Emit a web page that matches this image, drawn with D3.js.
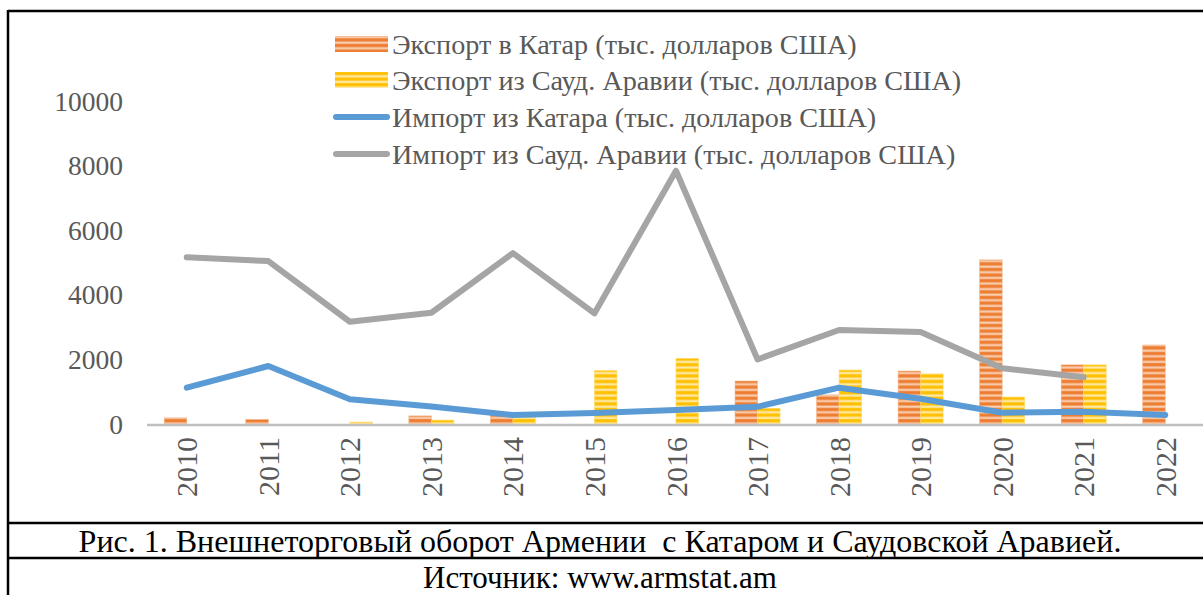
<!DOCTYPE html>
<html>
<head>
<meta charset="utf-8">
<script src="https://cdn.jsdelivr.net/npm/d3@7"></script>
<style>
  body { margin: 0; background: #fff; }
  svg { display: block; font-family: "Liberation Serif", "Times New Roman", serif; }
</style>
</head>
<body>
<svg id="graph"></svg>
<script>
// data
var years = ["2010","2011","2012","2013","2014","2015","2016","2017","2018","2019","2020","2021","2022"];
var exportQatar = [190, 140, 0, 250, 330, 0, 0, 1330, 900, 1640, 5080, 1830, 2445];
var exportSaudi = [0, 0, 60, 120, 230, 1650, 2030, 485, 1670, 1550, 835, 1830, 0];
var importQatar = [1125, 1795, 765, 540, 280, 340, 430, 535, 1125, 780, 350, 380, 280];
var importSaudi = [5160, 5045, 3165, 3445, 5290, 3425, 7840, 2000, 2910, 2850, 1725, 1445, null];
var yTicks = [0, 2000, 4000, 6000, 8000, 10000];
var legendLabels = [
  "Экспорт в Катар (тыс. долларов США)",
  "Экспорт из Сауд. Аравии (тыс. долларов США)",
  "Импорт из Катара (тыс. долларов США)",
  "Импорт из Сауд. Аравии (тыс. долларов США)"
];
var caption = "Рис. 1. Внешнеторговый оборот Армении  с Катаром и Саудовской Аравией.";
var source = "Источник: www.armstat.am";

var screen = {width: 1203, height: 595};
var svg = d3.select("#graph")
  .attr("width", screen.width)
  .attr("height", screen.height);

// striped fills for the bars
var defs = svg.append("defs");
var makeStripes = function(id, dark, light)
{
  var p = defs.append("pattern")
    .attr("id", id)
    .attr("patternUnits", "userSpaceOnUse")
    .attr("width", 10).attr("height", 5.6);
  p.append("rect").attr("width", 10).attr("height", 5.6).attr("fill", dark);
  p.append("rect").attr("y", 2.2).attr("width", 10).attr("height", 2.6).attr("fill", light);
  p.append("rect").attr("y", 2.9).attr("width", 10).attr("height", 1.2).attr("fill", "#fff").attr("opacity", 0.35);
};
makeStripes("stripeOrange", "#ED7D31", "#F6B88E");
makeStripes("stripeYellow", "#FFC000", "#FFDF80");

var xScale = d3.scaleBand().domain(years).range([146, 1206]).padding(0);
var yScale = d3.scaleLinear().domain([0, 10000]).range([424, 101]);
var inner = d3.scaleBand().domain(["q", "s"]).range([-22.5, 22.5]);
var cx = function(d, i) { return xScale(years[i]) + xScale.bandwidth() / 2; };

// y tick labels
svg.append("g").selectAll("text")
  .data(yTicks)
  .enter()
  .append("text")
  .attr("x", 123)
  .attr("y", function(d) { return yScale(d); })
  .attr("text-anchor", "end")
  .attr("dominant-baseline", "central")
  .attr("font-size", 27.5)
  .attr("fill", "#595959")
  .text(function(d) { return d; });

// bars
var barData = [
  {key: "q", values: exportQatar, fill: "url(#stripeOrange)", edge: "#F4B183"},
  {key: "s", values: exportSaudi, fill: "url(#stripeYellow)", edge: "#FFD966"}
];
barData.forEach(function(s)
{
  svg.append("g").selectAll("rect")
    .data(s.values)
    .enter()
    .append("rect")
    .attr("x", function(d, i) { return cx(d, i) + inner(s.key); })
    .attr("width", inner.bandwidth())
    .attr("y", function(d) { return yScale(d); })
    .attr("height", function(d) { return yScale(0) - yScale(d); })
    .attr("fill", s.fill)
    .attr("stroke", s.edge)
    .attr("stroke-width", 0.6);
});

// x axis line
svg.append("line")
  .attr("x1", 147).attr("x2", screen.width)
  .attr("y1", yScale(0) + 1).attr("y2", yScale(0) + 1)
  .attr("stroke", "#BFBFBF").attr("stroke-width", 2.5);

// year labels
svg.append("g").selectAll("text")
  .data(years)
  .enter()
  .append("text")
  .attr("transform", function(d) { return "translate(" + (xScale(d) + xScale.bandwidth() / 2) + ",437) rotate(-90)"; })
  .attr("text-anchor", "end")
  .attr("dominant-baseline", "central")
  .attr("font-size", 30)
  .attr("fill", "#595959")
  .text(function(d) { return d; });

// lines
var line = d3.line()
  .defined(function(d) { return d != null; })
  .x(function(d, i) { return cx(d, i); })
  .y(function(d) { return yScale(d); });

svg.append("path")
  .datum(importSaudi)
  .attr("d", line)
  .attr("fill", "none")
  .attr("stroke", "#A5A5A5")
  .attr("stroke-width", 6)
  .attr("stroke-linecap", "round")
  .attr("stroke-linejoin", "round");

svg.append("path")
  .datum(importQatar)
  .attr("d", line)
  .attr("fill", "none")
  .attr("stroke", "#5B9BD5")
  .attr("stroke-width", 6)
  .attr("stroke-linecap", "round")
  .attr("stroke-linejoin", "round");

// legend
var legendY = [44, 80, 117, 154];
var legend = svg.append("g");
legend.append("rect").attr("x", 335).attr("y", legendY[0] - 8).attr("width", 53).attr("height", 16).attr("fill", "url(#stripeOrange)");
legend.append("rect").attr("x", 335).attr("y", legendY[1] - 8).attr("width", 53).attr("height", 16).attr("fill", "url(#stripeYellow)");
legend.append("line").attr("x1", 336).attr("x2", 387).attr("y1", legendY[2]).attr("y2", legendY[2])
  .attr("stroke", "#5B9BD5").attr("stroke-width", 6).attr("stroke-linecap", "round");
legend.append("line").attr("x1", 336).attr("x2", 387).attr("y1", legendY[3]).attr("y2", legendY[3])
  .attr("stroke", "#A5A5A5").attr("stroke-width", 6).attr("stroke-linecap", "round");
legend.selectAll("text")
  .data(legendLabels)
  .enter()
  .append("text")
  .attr("x", 392)
  .attr("y", function(d, i) { return legendY[i]; })
  .attr("dominant-baseline", "central")
  .attr("font-size", 28.2)
  .attr("fill", "#595959")
  .text(function(d) { return d; });

// frame
var frame = svg.append("g").attr("stroke", "#000").attr("stroke-width", 2.5);
frame.append("line").attr("x1", 8).attr("x2", 8).attr("y1", 10).attr("y2", screen.height);
frame.append("line").attr("x1", 8).attr("x2", screen.width).attr("y1", 11).attr("y2", 11);
frame.append("line").attr("x1", 8).attr("x2", screen.width).attr("y1", 523).attr("y2", 523);
frame.append("line").attr("x1", 8).attr("x2", screen.width).attr("y1", 558).attr("y2", 558);

// caption rows
svg.append("text")
  .attr("x", 600).attr("y", 541)
  .attr("text-anchor", "middle").attr("dominant-baseline", "central")
  .attr("font-size", 32).attr("fill", "#000")
  .style("white-space", "pre")
  .text(caption);
svg.append("text")
  .attr("x", 600).attr("y", 577)
  .attr("text-anchor", "middle").attr("dominant-baseline", "central")
  .attr("font-size", 31).attr("fill", "#000")
  .text(source);
</script>
</body>
</html>
